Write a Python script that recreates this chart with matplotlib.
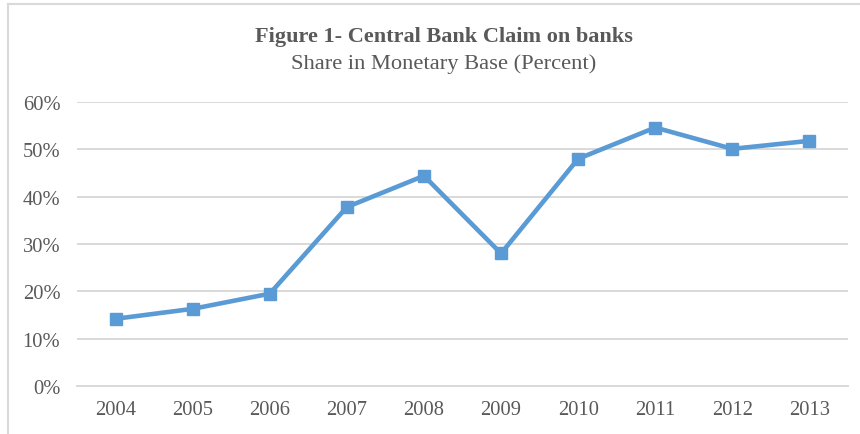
import numpy as np
import matplotlib.pyplot as plt
from matplotlib.ticker import FuncFormatter

years = ['2004', '2005', '2006', '2007', '2008', '2009', '2010', '2011', '2012', '2013']
share = [14.2, 16.3, 19.5, 37.8, 44.4, 28.0, 48.0, 54.6, 50.1, 51.8]  # percent
yticks = [0, 10, 20, 30, 40, 50, 60]

plt.rcParams['font.family'] = ['Liberation Serif', 'DejaVu Serif']
grey = '#595959'

fig = plt.figure(figsize=(8.6, 4.35), dpi=100)
ax = fig.add_axes([77 / 860, 1 - 387 / 435, (848 - 77) / 860, (387 - 103) / 435])

x = np.arange(len(years))
ax.plot(x, share, color='#5B9BD5', lw=3.3, marker='s', ms=9.2,
        solid_joinstyle='round', zorder=3)

ax.set_xlim(-0.5, len(years) - 0.5)
ax.set_ylim(0, 60)
ax.set_yticks(yticks)
ax.yaxis.set_major_formatter(FuncFormatter(lambda v, p: f'{v:.0f}%'))
ax.set_xticks(x)
ax.set_xticklabels(years)
ax.grid(axis='y', color='#D9D9D9', lw=1.4)
ax.set_axisbelow(True)
for s in ax.spines.values():
    s.set_visible(False)
ax.tick_params(length=0, labelsize=14.8, colors=grey)
ax.tick_params(axis='y', pad=12)
ax.tick_params(axis='x', pad=10)
ax.get_ygridlines()[0].set_clip_on(False)

fig.text(444 / 860, 1 - 37 / 435, 'Figure 1- Central Bank Claim on banks',
         ha='center', va='center', fontsize=16, fontweight='bold', color=grey)
fig.text(444 / 860, 1 - 64 / 435, 'Share in Monetary Base (Percent)',
         ha='center', va='center', fontsize=16.2, color=grey)

# chart frame (only top and left edge visible in the crop)
fig.add_artist(plt.Line2D([8 / 860, 1], [1 - 4.5 / 435] * 2, color='#D9D9D9', lw=1.5,
                          transform=fig.transFigure))
fig.add_artist(plt.Line2D([8 / 860] * 2, [0, 1 - 4.5 / 435], color='#D9D9D9', lw=1.5,
                          transform=fig.transFigure))

fig.savefig('out.png', dpi=100)
